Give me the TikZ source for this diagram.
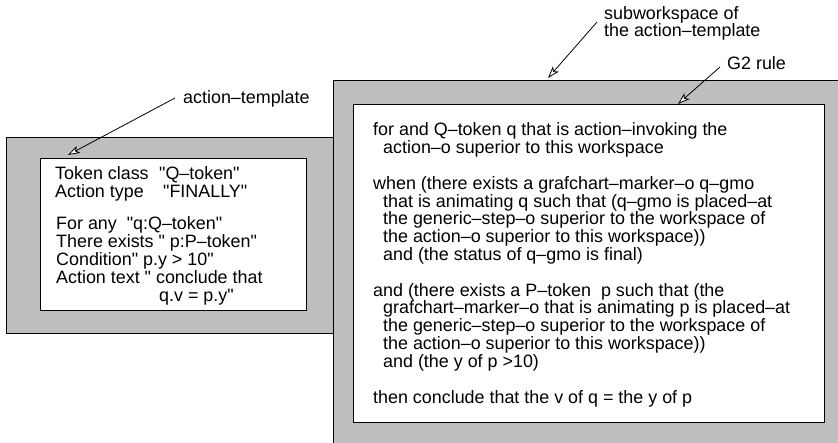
\documentclass[tikz,border=0pt]{standalone}
\usepackage{fontspec}
\newfontfamily\labelfont{Liberation Sans}
\usetikzlibrary{arrows.meta}
\definecolor{panelgray}{HTML}{BEBEBE}
\begin{document}
\begin{tikzpicture}[x=1pt,y=-1pt,
  txt/.style={anchor=base west,inner sep=0pt,font=\labelfont\fontsize{17.9}{17.8}\selectfont},
  outerpanel/.style={draw=black,line width=1pt,fill=panelgray},
  innerpanel/.style={draw=black,line width=1pt,fill=white},
  callout/.style={draw=black,line width=0.8pt,-{Stealth[length=12pt,width=8pt,inset=3pt,fill=white]}}]
\useasboundingbox (0,0) rectangle (838,443);
\clip (0,0) rectangle (838,443);
% left panel (action-template)
\node[outerpanel,inner sep=0pt,minimum width=327pt,minimum height=196pt,anchor=north west] (lout) at (6,137) {};
\node[innerpanel,inner sep=0pt,minimum width=266pt,minimum height=152pt,anchor=north west] (lin) at (40,158) {};
\node[txt] (l1) at (55,180) {\makebox[104pt][l]{Token class}"Q–token"};
\node[txt] (l2) at (55,198) {\makebox[108pt][l]{Action type}"FINALLY"};
\node[txt] (l3) at (56,230) {For any\ \ "q:Q–token"};
\node[txt] (l4) at (56,248) {There exists " p:P–token"};
\node[txt] (l5) at (56,266) {Condition" p.y > 10"};
\node[txt] (l6) at (56,284) {Action text " conclude that};
\node[txt] (l7) at (159,302) {q.v = p.y"};
% right panel (subworkspace)
\node[outerpanel,inner sep=0pt,minimum width=520pt,minimum height=380pt,anchor=north west] (rout) at (333,80) {};
\node[innerpanel,inner sep=0pt,minimum width=471pt,minimum height=318pt,anchor=north west] (rin) at (353,104) {};
\node[txt] (r1) at (373,136) {for and Q–token q that is action–invoking the};
\node[txt] (r2) at (383,153.8) {action–o superior to this workspace};
\node[txt] (r3) at (373,189.4) {when (there exists a grafchart–marker–o q–gmo};
\node[txt] (r4) at (383,207.2) {that is animating q such that (q–gmo is placed–at};
\node[txt] (r5) at (383,225) {the generic–step–o superior to the workspace of};
\node[txt] (r6) at (383,242.8) {the action–o superior to this workspace))};
\node[txt] (r7) at (383,260.6) {and (the status of q–gmo is final)};
\node[txt] (r8) at (373,296.2) {and (there exists a P–token\ \ p such that (the};
\node[txt] (r9) at (383,314) {grafchart–marker–o that is animating p is placed–at};
\node[txt] (r10) at (383,331.8) {the generic–step–o superior to the workspace of};
\node[txt] (r11) at (383,349.6) {the action–o superior to this workspace))};
\node[txt] (r12) at (383,367.4) {and (the y of p >10)};
\node[txt] (r13) at (373,403) {then conclude that the v of q = the y of p};
% callout labels
\node[txt] (la) at (183,104) {action–template};
\node[txt] (lb1) at (604,20) {subworkspace of};
\node[txt] (lb2) at (604,37) {the action–template};
\node[txt] (lc) at (727,70) {G2 rule};
\coordinate (a1) at (175,98);
\coordinate (a2) at (68,155);
\coordinate (b1) at (597,22);
\coordinate (b2) at (548,78);
\coordinate (c1) at (720,67);
\coordinate (c2) at (678,104);
\draw[callout] (a1) -- (a2);
\draw[callout] (b1) -- (b2);
\draw[callout] (c1) -- (c2);
\end{tikzpicture}
\end{document}
